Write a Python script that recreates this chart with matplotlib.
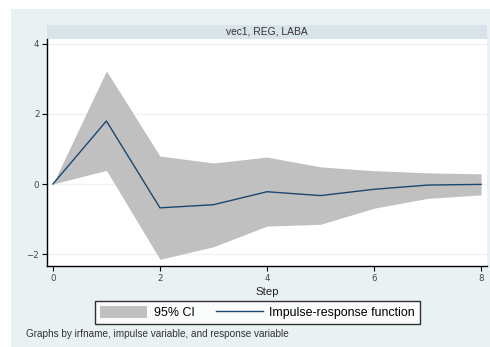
import matplotlib
matplotlib.use('Agg')
import matplotlib.pyplot as plt
import matplotlib.patches as mp
from matplotlib.lines import Line2D

# data
steps = [0, 1, 2, 3, 4, 5, 6, 7, 8]
irf = [0.0, 1.80, -0.68, -0.59, -0.22, -0.33, -0.15, -0.03, -0.01]
ci_upper = [0.0, 3.23, 0.80, 0.60, 0.77, 0.49, 0.38, 0.32, 0.29]
ci_lower = [0.0, 0.39, -2.15, -1.79, -1.20, -1.15, -0.69, -0.41, -0.31]
yticks = [-2, 0, 2, 4]
xticks = [0, 2, 4, 6, 8]
title = 'vec1, REG, LABA'

W, H = 490, 347
bg = '#eaf1f3'
strip = '#d9e4ea'
navy = '#1a476f'


def main():
    fig = plt.figure(figsize=(W / 100, H / 100), dpi=100)
    fig.patch.set_facecolor('white')
    # outer graph region
    fig.patches.append(mp.Rectangle((11 / W, 0), 1 - 11 / W, 1 - 9 / H,
                                    transform=fig.transFigure, fc=bg, ec='none', zorder=-3))
    # subtitle strip
    fig.patches.append(mp.Rectangle((47 / W, 1 - 39 / H), 440 / W, 14 / H,
                                    transform=fig.transFigure, fc=strip, ec='none', zorder=-2))
    fig.text(267 / W, 1 - 32 / H, title, ha='center', va='center', fontsize=7.4,
             color='#333333', family='Liberation Sans')

    ax = fig.add_axes([47 / W, (H - 266) / H, 440 / W, 227 / H])
    ax.set_facecolor('white')
    ax.fill_between(steps, ci_lower, ci_upper, color='#c0c0c0', lw=0, zorder=2)
    ax.plot(steps, irf, color=navy, lw=1.0, zorder=3)
    ax.set_xlim(-0.11, 8.11)
    ax.set_ylim(-2.34, 4.14)
    ax.set_yticks(yticks)
    ax.set_xticks(xticks)
    ax.grid(axis='y', color='#eaf2f3', lw=0.9, zorder=1)
    ax.set_axisbelow(True)
    for s in ['top', 'right']:
        ax.spines[s].set_visible(False)
    for s in ['left', 'bottom']:
        ax.spines[s].set_linewidth(1.0)
        ax.spines[s].set_color('black')
    ax.tick_params(labelsize=6.2, length=3.5, width=0.8, pad=2,
                   colors='black', labelcolor='#444444')
    ax.set_xlabel('Step', fontsize=8.2, labelpad=3, color='#222222', family='Liberation Sans')

    handles = [mp.Patch(fc='#c0c0c0', ec='none'),
               Line2D([], [], color=navy, lw=1.0)]
    leg = fig.legend(handles, ['95% CI', 'Impulse-response function'],
                     loc='center', bbox_to_anchor=(257.5 / W, 1 - 312.5 / H), ncol=2,
                     frameon=True, fancybox=False, handlelength=3.8,
                     handleheight=1.2, columnspacing=1.7, borderpad=0.4,
                     handletextpad=0.55, prop={'family': 'Liberation Sans', 'size': 8.9})
    leg.get_frame().set_edgecolor('black')
    leg.get_frame().set_linewidth(1.0)
    leg.get_frame().set_facecolor('white')

    fig.text(26 / W, 1 - 334 / H, 'Graphs by irfname, impulse variable, and response variable',
             ha='left', va='center', fontsize=7.2, color='#333333', family='Liberation Sans')

    plt.savefig('out.png', dpi=100, facecolor=fig.get_facecolor())


if __name__ == '__main__':
    main()
